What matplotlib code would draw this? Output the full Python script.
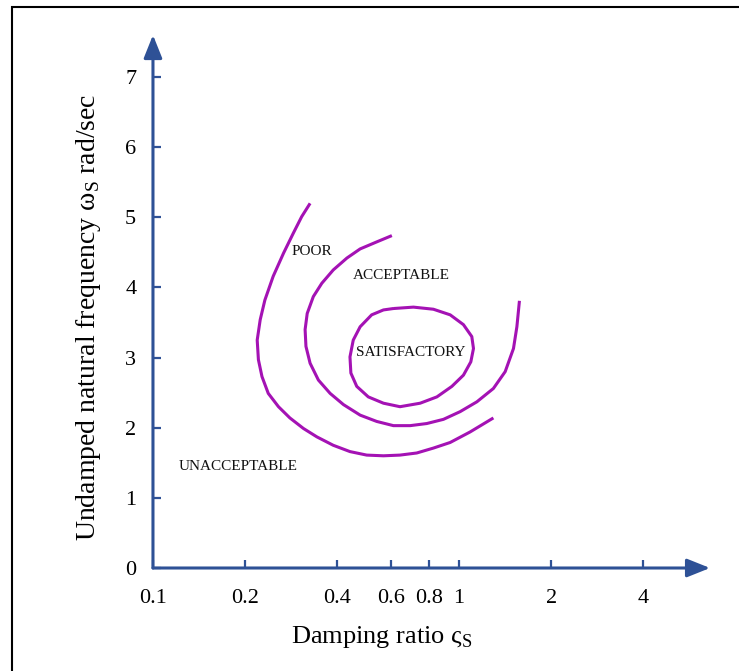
import matplotlib
matplotlib.use("Agg")
import matplotlib.pyplot as plt
from matplotlib.patches import Rectangle

plt.rcParams["font.family"] = ["Liberation Serif", "DejaVu Serif"]
plt.rcParams["mathtext.fontset"] = "custom"
plt.rcParams["mathtext.rm"] = "Liberation Serif"

# boundary curves (damping ratio, frequency)
poor_x = [0.326, 0.306, 0.287, 0.267, 0.247, 0.232, 0.224, 0.219, 0.221, 0.227, 0.238, 0.257,
          0.280, 0.310, 0.343, 0.388, 0.440, 0.499, 0.566, 0.641, 0.727, 0.824, 0.935, 1.086, 1.294]
poor_y = [5.20, 5.01, 4.77, 4.49, 4.16, 3.82, 3.54, 3.25, 2.97, 2.73, 2.49, 2.30,
          2.14, 1.99, 1.87, 1.75, 1.66, 1.61, 1.60, 1.61, 1.64, 1.71, 1.79, 1.94, 2.14]

accept_x = [0.603, 0.538, 0.475, 0.430, 0.388, 0.356, 0.334, 0.319, 0.314, 0.316, 0.326, 0.347,
            0.379, 0.419, 0.475, 0.538, 0.610, 0.692, 0.784, 0.889, 1.008, 1.143, 1.294, 1.414,
            1.505, 1.544, 1.574]
accept_y = [4.74, 4.65, 4.55, 4.42, 4.25, 4.06, 3.87, 3.63, 3.40, 3.16, 2.92, 2.68,
            2.49, 2.33, 2.18, 2.09, 2.03, 2.03, 2.06, 2.12, 2.23, 2.37, 2.56, 2.80,
            3.13, 3.44, 3.81]

satis_x = [0.610, 0.709, 0.824, 0.935, 1.033, 1.100, 1.114, 1.092, 1.033, 0.947, 0.846, 0.746,
           0.641, 0.566, 0.505, 0.463, 0.443, 0.440, 0.451, 0.475, 0.518, 0.566, 0.610]
satis_y = [3.70, 3.72, 3.69, 3.61, 3.47, 3.30, 3.13, 2.94, 2.75, 2.59, 2.44, 2.35,
           2.30, 2.35, 2.44, 2.59, 2.78, 3.01, 3.25, 3.44, 3.61, 3.68, 3.70]

x_ticks = [0.1, 0.2, 0.4, 0.6, 0.8, 1, 2, 4]
x_tick_labels = ["0.1", "0.2", "0.4", "0.6", "0.8", "1", "2", "4"]
y_ticks = [0, 1, 2, 3, 4, 5, 6, 7]

region_labels = ["POOR", "ACCEPTABLE", "SATISFACTORY", "UNACCEPTABLE"]
region_x = [0.33, 0.646, 0.697, 0.19]
region_y = [4.51, 4.17, 3.08, 1.45]

blue = "#2E5196"
purple = "#A412B4"

fig = plt.figure(figsize=(7.39, 6.71), dpi=100)
ax = fig.add_axes([0.2070, 0.1535, 0.7538, 0.7943])

for xs, ys in [(poor_x, poor_y), (accept_x, accept_y), (satis_x, satis_y)]:
    ax.plot(xs, ys, color=purple, lw=2.2, solid_joinstyle="round", solid_capstyle="butt")

for lab, lx, ly in zip(region_labels, region_x, region_y):
    ax.text(lx, ly, lab, fontsize=11, ha="center", va="center", color="#111111")

ax.set_xscale("log")
ax.set_xlim(0.1, 6.6)
ax.set_ylim(0, 7.6)
ax.set_xticks(x_ticks)
ax.set_xticklabels(x_tick_labels)
ax.set_yticks(y_ticks)
ax.xaxis.set_minor_locator(matplotlib.ticker.NullLocator())
for s in ax.spines.values():
    s.set_visible(False)
ax.tick_params(direction="in", length=6, width=1.6, color=blue, labelsize=16)
ax.tick_params(axis="x", pad=15)
ax.tick_params(axis="y", pad=12)

# arrow axes
arrow = dict(arrowstyle="-|>,head_length=1.0,head_width=0.4", color=blue, lw=2.2,
             shrinkA=0, shrinkB=0, mutation_scale=14)
ax.annotate("", xy=(6.6, 0), xytext=(0.1, 0), arrowprops=arrow, annotation_clip=False)
ax.annotate("", xy=(0.1, 7.6), xytext=(0.1, 0), arrowprops=arrow, annotation_clip=False)

ax.set_xlabel("Damping ratio ς$_\\mathrm{S}$", fontsize=19)
ax.xaxis.set_label_coords(0.411, -0.105)
ax.set_ylabel("Undamped natural frequency ω$_\\mathrm{S}$ rad/sec", fontsize=20)
ax.yaxis.set_label_coords(-0.089, 0.47)

# frame around the figure
fig.add_artist(Rectangle((12 / 739, -0.1), 1.2, 1.1 - 7 / 671, fill=False,
                         transform=fig.transFigure, lw=1.5, ec="black"))

fig.savefig("out.png", dpi=100)
